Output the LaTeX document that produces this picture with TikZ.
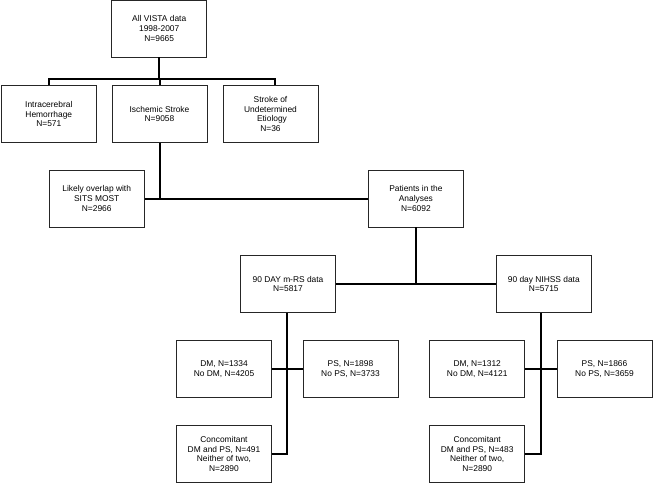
\documentclass[tikz,border=0pt]{standalone}
\usepackage{fontspec}
\setmainfont{Liberation Sans}
\usetikzlibrary{calc}
\begin{document}
\begin{tikzpicture}[x=1pt,y=-1pt,
  box/.style={draw=black!85, line width=0.8pt, minimum width=95pt, minimum height=56.5pt,
    align=center, inner sep=1pt, font=\fontsize{8.4}{9.8}\selectfont},
  conn/.style={line width=2pt, black, line join=miter}]
\useasboundingbox (0,0) rectangle (653,483);
% nodes
\node[box] (top)  at (159.2,28.7) {All VISTA data\\1998-2007\\N=9665};
\node[box] (ich)  at (48.8,114)   {Intracerebral\\Hemorrhage\\N=571};
\node[box] (isch) at (159.5,114)  {Ischemic Stroke\\N=9058};
\node[box] (und)  at (270.5,114)  {Stroke of\\Undetermined\\\hspace{3pt}Etiology\\N=36};
\node[box] (ovl)  at (96.7,198.7) {Likely overlap with\\SITS MOST\\N=2966};
\node[box] (pat)  at (415.9,198.7) {Patients in the\\Analyses\\N=6092};
\node[box] (mrs)  at (288,284)    {90 DAY m-RS data\\N=5817};
\node[box] (nih)  at (543.8,284)  {90 day NIHSS data\\N=5715};
\node[box] (dm1)  at (224,369)    {DM, N=1334\\No DM, N=4205};
\node[box] (ps1)  at (350.5,369)  {PS, N=1898\\No PS, N=3733};
\node[box] (con1) at (224,454)    {Concomitant\\DM and PS, N=491\\Neither of two,\\N=2890};
\node[box] (dm2)  at (477.2,369)  {DM, N=1312\\No DM, N=4121};
\node[box] (ps2)  at (604.5,369)  {PS, N=1866\\No PS, N=3659};
\node[box] (con2) at (477.2,454)  {Concomitant\\DM and PS, N=483\\Neither of two,\\N=2890};
% coordinates
\coordinate (bus) at (0,79);
\coordinate (undin) at ($(und.north)+(4.5,0)$);
\coordinate (mv) at ($(mrs.south)+(-1.3,0)$);
\coordinate (nv) at ($(nih.south)+(-2.8,0)$);
% connectors
\draw[conn] (top.south) -- (top.south |- bus);
\draw[conn] (ich.north) -- (ich.north |- bus) -| (undin);
\draw[conn] (isch.north |- bus) -- (isch.north);
\draw[conn] (isch.south) -- (isch.south |- ovl.east);
\draw[conn] (ovl.east) -- (pat.west);
\draw[conn] (pat.south) -- (pat.south |- mrs.east);
\draw[conn] (mrs.east) -- (nih.west);
\draw[conn] (mv) -- (mv |- con1.east) -- (con1.east);
\draw[conn] (dm1.east) -- (ps1.west);
\draw[conn] (nv) -- (nv |- con2.east) -- (con2.east);
\draw[conn] (dm2.east) -- (ps2.west);
\end{tikzpicture}
\end{document}
